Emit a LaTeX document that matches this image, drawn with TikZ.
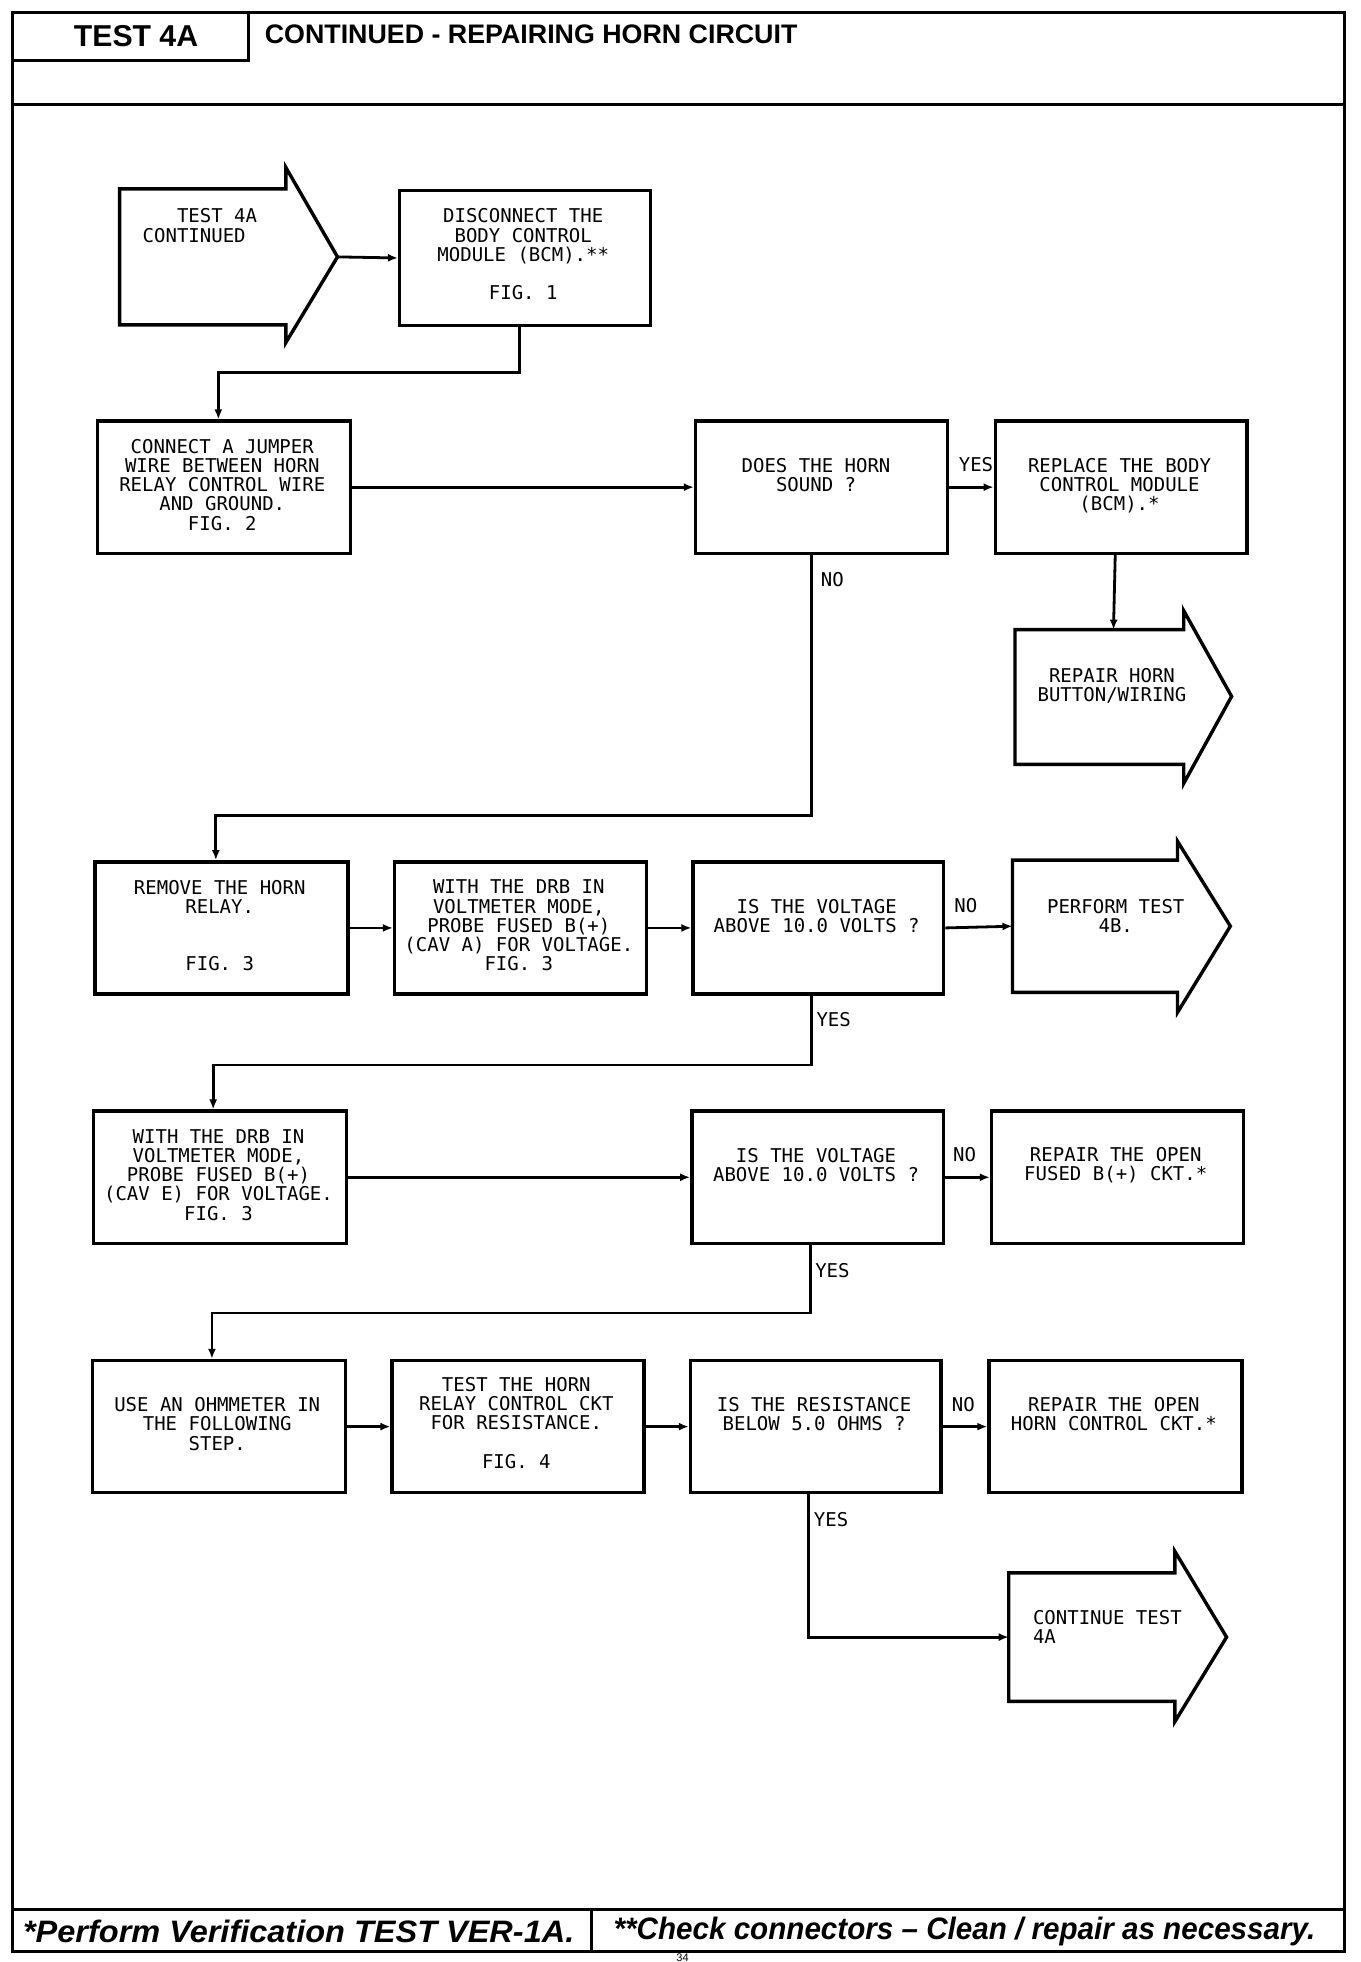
\documentclass[tikz,border=0pt]{standalone}
\usepackage{fontspec}
\usepackage{graphicx}
\setmainfont{Liberation Sans}
\newfontfamily\plotfont{DejaVu Sans Mono}
\usetikzlibrary{arrows.meta}
\tikzset{
  boxn/.style={draw, line width=1.7pt, inner sep=0pt},
  shp/.style={draw, line width=1.7pt, line join=miter},
  frm/.style={draw, line width=1.5pt},
  conn/.style={line width=1.4pt, -{Latex[length=5pt,width=4pt]}},
  txt/.style={inner sep=0pt, align=center, font=\plotfont\fontsize{9.5}{9.6}\selectfont},
  txtl/.style={inner sep=0pt, align=left, font=\plotfont\fontsize{9.5}{9.6}\selectfont},
  lbl/.style={inner sep=0pt, font=\plotfont\fontsize{9.5}{9.6}\selectfont},
  foot/.style={inner sep=0pt, anchor=west, font=\bfseries\itshape\fontsize{15.5}{17}\selectfont},
}
\newcommand\bx[5]{\node[boxn, minimum width={(#4-#2)*0.6296pt}, minimum height={(#5-#3)*0.6296pt}, anchor=north west] (#1) at (#2,#3) {};}
\begin{document}
\begin{tikzpicture}[x=0.6296pt, y=-0.6296pt]
\useasboundingbox (0,0) rectangle (1080,1558);
\fill[white] (0,0) rectangle (1080,1558);
% frame
\draw[frm] (10,10) rectangle (1068,1550);
\draw[frm] (10,83) -- (1068,83);
\draw[frm] (10,1516) -- (1068,1516);
\draw[frm] (470,1516) -- (470,1550);
\draw[frm] (10,48) -- (197,48) -- (197,10);
\node[inner sep=0pt, font=\bfseries\fontsize{15.1}{16}\selectfont] (hdrl) at (108,29) {TEST 4A};
\node[inner sep=0pt, anchor=west, font=\bfseries\fontsize{13.4}{15}\selectfont] (hdrr) at (210,27) {CONTINUED - REPAIRING HORN CIRCUIT};
\node[foot] (ft1) at (18,1534) {\scalebox{1.048}[1]{*Perform Verification TEST VER-1A.}};
\node[foot] (ft2) at (487,1534) {\scalebox{0.955}[1]{**Check connectors -- Clean / repair as necessary.}};
\node[inner sep=0pt, anchor=south, font=\fontsize{5.5}{6}\selectfont] (pg) at (542,1557.6) {34};
% boxes
\bx{disc}{316}{150}{515}{257}
\bx{jump}{76}{333}{277}{438}
\bx{does}{551}{333}{751}{438}
\bx{repl}{789}{333}{989}{438}
\bx{remove}{74}{683}{275}{788}
\bx{with1}{312}{683}{512}{788}
\bx{is1}{549}{683}{748}{788}
\bx{with2}{73}{881}{274}{986}
\bx{is2}{548}{881}{748}{986}
\bx{rfused}{786}{881}{986}{986}
\bx{use}{72}{1079}{273}{1184}
\bx{thorn}{310}{1079}{510}{1184}
\bx{is3}{547}{1079}{746}{1184}
\bx{rhorn}{784}{1079}{985}{1184}
% arrow shapes
\draw[shp] (95,150) -- (227,150) -- (227,133) -- (268,204) -- (227,272) -- (227,258) -- (95,258) -- cycle;
\coordinate (start-tip) at (268,204);
\draw[shp] (806,500) -- (940,500) -- (940,485) -- (978,553) -- (940,622) -- (940,607) -- (806,607) -- cycle;
\coordinate (rhb-top) at (884.2,500);
\draw[shp] (804,683) -- (935,683) -- (935,668) -- (977,735.5) -- (935,804) -- (935,788) -- (804,788) -- cycle;
\coordinate (perf-west) at (804,735.5);
\draw[shp] (801,1249) -- (933,1249) -- (933,1232) -- (974,1300) -- (933,1367) -- (933,1351) -- (801,1351) -- cycle;
\coordinate (cont-west) at (801,1300);
% texts
\node[txtl, anchor=north west] (t-start) at (113,165.5) {\phantom{XXX}TEST 4A\\CONTINUED};
\node[txt, anchor=north] (t-disc) at (415.5,165.5) {DISCONNECT THE\\BODY CONTROL\\MODULE (BCM).**\\[9.6pt]FIG. 1};
\node[txt, anchor=north] (t-jump) at (176.5,348.5) {CONNECT A JUMPER\\WIRE BETWEEN HORN\\RELAY CONTROL WIRE\\AND GROUND.\\FIG. 2};
\node[txt, anchor=north] (t-does) at (648,363.5) {DOES THE HORN\\SOUND ?};
\node[txt, anchor=north] (t-repl) at (889,363.5) {REPLACE THE BODY\\CONTROL MODULE\\(BCM).*};
\node[txt, anchor=north] (t-rhb) at (883,530.5) {REPAIR HORN\\BUTTON/WIRING};
\node[txt, anchor=north] (t-remove) at (174.5,698.5) {REMOVE THE HORN\\RELAY.\\[19.2pt]FIG. 3};
\node[txt, anchor=north] (t-with1) at (412,698.5) {WITH THE DRB IN\\VOLTMETER MODE,\\PROBE FUSED B(+)\\(CAV A) FOR VOLTAGE.\\FIG. 3};
\node[txt, anchor=north] (t-is1) at (648.5,713.5) {IS THE VOLTAGE\\ABOVE 10.0 VOLTS ?};
\node[txt, anchor=north] (t-perf) at (886,713.5) {PERFORM TEST\\4B.};
\node[txt, anchor=north] (t-with2) at (173.5,896.5) {WITH THE DRB IN\\VOLTMETER MODE,\\PROBE FUSED B(+)\\(CAV E) FOR VOLTAGE.\\FIG. 3};
\node[txt, anchor=north] (t-is2) at (648,911.5) {IS THE VOLTAGE\\ABOVE 10.0 VOLTS ?};
\node[txt, anchor=north] (t-rfused) at (886,910.5) {REPAIR THE OPEN\\FUSED B(+) CKT.*};
\node[txt, anchor=north] (t-use) at (172.5,1109.5) {USE AN OHMMETER IN\\THE FOLLOWING\\STEP.};
\node[txt, anchor=north] (t-thorn) at (410,1093.5) {TEST THE HORN\\RELAY CONTROL CKT\\FOR RESISTANCE.\\[9.6pt]FIG. 4};
\node[txt, anchor=north] (t-is3) at (646.5,1109.5) {IS THE RESISTANCE\\BELOW 5.0 OHMS ?};
\node[txt, anchor=north] (t-rhorn) at (884.5,1109.5) {REPAIR THE OPEN\\HORN CONTROL CKT.*};
\node[txtl, anchor=north west] (t-cont) at (820,1278.5) {CONTINUE TEST\\4A};
% connectors
\draw[conn] (start-tip) -- (disc.west);
\draw[conn] ([xshift=-2.8pt]disc.south) -- ++(0,36) -| ([xshift=-2.8pt]jump.north);
\draw[conn] (jump.east) -- (does.west);
\draw[conn] (does.east) -- (repl.west);
\draw[conn] ([xshift=-3pt]repl.south) -- (rhb-top);
\draw[conn] ([xshift=-5pt]does.south) -- ++(0,207) -| ([xshift=-2.8pt]remove.north);
\draw[conn] (remove.east) -- (with1.west);
\draw[conn] (with1.east) -- (is1.west);
\draw[conn] (is1.east) -- (perf-west);
\draw[conn] ([xshift=-3.5pt]is1.south) -- ++(0,55) -| ([xshift=-3.5pt]with2.north);
\draw[conn] (with2.east) -- (is2.west);
\draw[conn] (is2.east) -- (rfused.west);
\draw[conn] ([xshift=-3.8pt]is2.south) -- ++(0,54) -| ([xshift=-3.5pt]use.north);
\draw[conn] (use.east) -- (thorn.west);
\draw[conn] (thorn.east) -- (is3.west);
\draw[conn] (is3.east) -- (rhorn.west);
\draw[conn] ([xshift=-3.5pt]is3.south) |- (cont-west);
% labels
\node[lbl] (l1) at (775,369) {YES};
\node[lbl] (l2) at (661,460) {NO};
\node[lbl] (l3) at (767,719) {NO};
\node[lbl] (l4) at (662,810) {YES};
\node[lbl] (l5) at (766,917) {NO};
\node[lbl] (l6) at (661,1009) {YES};
\node[lbl] (l7) at (765,1115) {NO};
\node[lbl] (l8) at (660,1207) {YES};
\end{tikzpicture}
\end{document}
